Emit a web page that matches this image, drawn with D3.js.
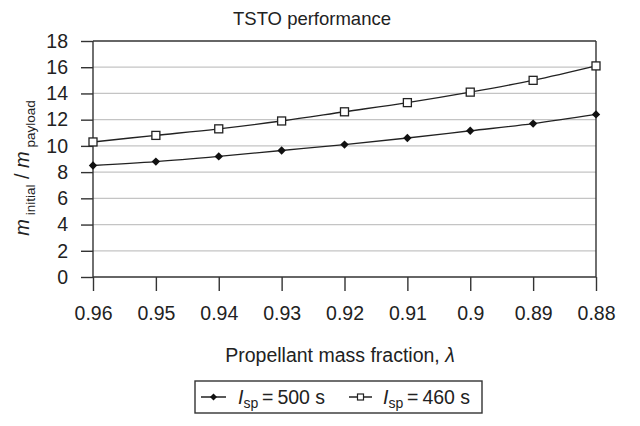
<!DOCTYPE html>
<html><head><meta charset="utf-8">
<script src="https://cdn.jsdelivr.net/npm/d3@7"></script>
<style>body{margin:0;background:#fff;} text{font-family:"Liberation Sans",Arial,sans-serif;fill:#222;}</style>
</head><body><svg id="c" width="640" height="426"></svg>
<script>
const categories = ["0.96","0.95","0.94","0.93","0.92","0.91","0.9","0.89","0.88"];
const isp500 = [8.5, 8.8, 9.2, 9.65, 10.1, 10.6, 11.15, 11.7, 12.4];
const isp460 = [10.3, 10.8, 11.3, 11.9, 12.6, 13.3, 14.1, 15.0, 16.1];
const yTicks = [0,2,4,6,8,10,12,14,16,18];

const svg = d3.select("#c");
const L = 93, R = 596, T = 41, B = 277;
const x = d3.scalePoint().domain(categories).range([L, R]);
const y = d3.scaleLinear().domain([0, 18]).range([B, T]);
const FONT = "Liberation Sans, Arial, sans-serif";

// gridlines
svg.append("g").selectAll("line").data(yTicks.slice(1, -1)).join("line")
  .attr("x1", L).attr("x2", R).attr("y1", d => y(d)).attr("y2", d => y(d))
  .attr("stroke", "#c4c4c4").attr("stroke-width", 1.2);
// top and right border
svg.append("line").attr("x1", L).attr("x2", R).attr("y1", y(18)).attr("y2", y(18)).attr("stroke", "#333").attr("stroke-width", 1.4);
svg.append("line").attr("x1", R).attr("x2", R).attr("y1", T).attr("y2", B).attr("stroke", "#333").attr("stroke-width", 1.4);

// y axis
const ya = svg.append("g").attr("transform", `translate(${L},0)`)
  .call(d3.axisLeft(y).tickValues(yTicks).tickSize(12).tickPadding(13));
ya.select(".domain").attr("stroke", "#333").attr("stroke-width", 1.4).attr("d", `M0,${T}V${B}`);
ya.selectAll(".tick line").attr("stroke", "#333").attr("stroke-width", 1.4);
ya.selectAll("text").attr("font-size", 19.5).attr("fill", "#222").style("font-family", FONT);

// x axis
const xa = svg.append("g").attr("transform", `translate(0,${B})`)
  .call(d3.axisBottom(x).tickSize(14).tickPadding(15));
xa.select(".domain").attr("stroke", "#333").attr("stroke-width", 1.4).attr("d", `M${L},0H${R}`);
xa.selectAll(".tick line").attr("stroke", "#333").attr("stroke-width", 1.4);
xa.selectAll("text").attr("font-size", 19.5).attr("fill", "#222").style("font-family", FONT);

// lines
const line = d3.line().x((d, i) => x(categories[i])).y(d => y(d)).curve(d3.curveCatmullRom);
svg.append("path").datum(isp500).attr("d", line).attr("fill", "none").attr("stroke", "#222").attr("stroke-width", 1.4);
svg.append("path").datum(isp460).attr("d", line).attr("fill", "none").attr("stroke", "#222").attr("stroke-width", 1.4);

const dia = r => `M0,${-r}L${r},0L0,${r}L${-r},0Z`;
svg.append("g").selectAll("path").data(isp500).join("path")
  .attr("d", dia(4.2)).attr("transform", (d, i) => `translate(${x(categories[i])},${y(d)})`).attr("fill", "#111");
svg.append("g").selectAll("rect").data(isp460).join("rect")
  .attr("x", (d, i) => x(categories[i]) - 4).attr("y", d => y(d) - 4).attr("width", 8).attr("height", 8)
  .attr("fill", "#fff").attr("stroke", "#222").attr("stroke-width", 1.3);

// title
svg.append("text").attr("x", 312).attr("y", 25).attr("text-anchor", "middle").attr("font-size", 18.5).text("TSTO performance");

// x title
const xt = svg.append("text").attr("x", 340).attr("y", 362).attr("text-anchor", "middle").attr("font-size", 19.5);
xt.append("tspan").text("Propellant mass fraction, ");
xt.append("tspan").attr("font-style", "italic").text("λ");

// y title
const yt = svg.append("text").attr("transform", "translate(29,168) rotate(-90)").attr("text-anchor", "middle").attr("font-size", 20);
yt.append("tspan").attr("font-style", "italic").text("m");
yt.append("tspan").attr("font-size", 13.5).attr("dy", 6).text(" initial");
yt.append("tspan").attr("dy", -6).text(" / ");
yt.append("tspan").attr("font-style", "italic").text("m");
yt.append("tspan").attr("font-size", 13.5).attr("dy", 6).text(" payload");

// legend
svg.append("rect").attr("x", 195).attr("y", 381).attr("width", 287).attr("height", 32)
  .attr("fill", "#fff").attr("stroke", "#333").attr("stroke-width", 1.4);
const lg = svg.append("g");
lg.append("line").attr("x1", 201).attr("x2", 226).attr("y1", 397).attr("y2", 397).attr("stroke", "#222").attr("stroke-width", 1.5);
lg.append("path").attr("d", dia(3.5)).attr("transform", "translate(213.5,397)").attr("fill", "#111");
const t1 = lg.append("text").attr("x", 238).attr("y", 404).attr("font-size", 19.5);
t1.append("tspan").attr("font-style", "italic").text("I");
t1.append("tspan").attr("font-size", 14).attr("dy", 4).text("sp");
t1.append("tspan").attr("dy", -4).text("\u2009=\u2009500 s");
lg.append("line").attr("x1", 349).attr("x2", 372).attr("y1", 397).attr("y2", 397).attr("stroke", "#222").attr("stroke-width", 1.5);
lg.append("rect").attr("x", 357.5).attr("y", 394).attr("width", 6).attr("height", 6).attr("fill", "#fff").attr("stroke", "#222").attr("stroke-width", 1.2);
const t2 = lg.append("text").attr("x", 383).attr("y", 404).attr("font-size", 19.5);
t2.append("tspan").attr("font-style", "italic").text("I");
t2.append("tspan").attr("font-size", 14).attr("dy", 4).text("sp");
t2.append("tspan").attr("dy", -4).text("\u2009=\u2009460 s");
</script></body></html>
